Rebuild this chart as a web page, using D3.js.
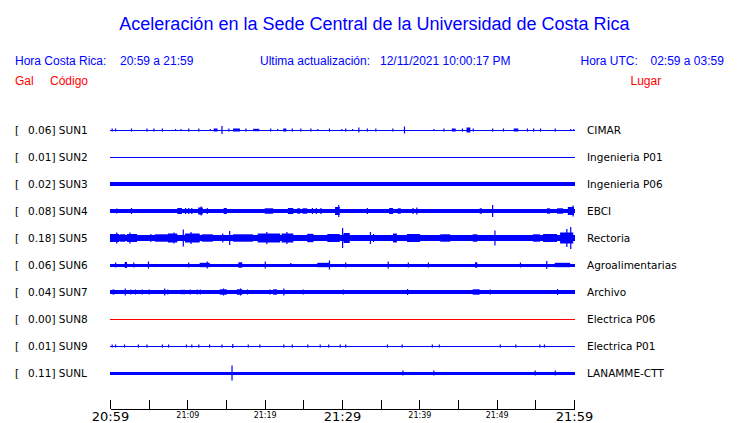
<!DOCTYPE html>
<html>
<head>
<meta charset="utf-8">
<script src="https://cdn.jsdelivr.net/npm/d3@7"></script>
<style>
  html, body { margin: 0; padding: 0; background: #fff; }
  svg { display: block; }
</style>
</head>
<body>
<svg id="chart" width="740" height="423"></svg>
<script>
// ---------------- DATA ----------------
const stations = ["SUN1","SUN2","SUN3","SUN4","SUN5","SUN6","SUN7","SUN8","SUN9","SUNL"];
const peaks    = ["0.06","0.01","0.02","0.08","0.18","0.06","0.04","0.00","0.01","0.11"];
const places   = ["CIMAR","Ingenieria P01","Ingenieria P06","EBCI","Rectoria","Agroalimentarias","Archivo","Electrica P06","Electrica P01","LANAMME-CTT"];
// background half-amplitude of each trace
const baseAmp  = [0.5, 0.5, 2, 2, 3, 1.5, 1.7, 0.5, 0.5, 1.5];
// bursts: [start minute, end minute (or null for a spike), half-amplitude]
const evSUN1 = [[0.2,null,1.5],[0.65,null,1.5],[2.7,null,1.5],[4.7,null,1.5],[5.6,null,1.5],[6.7,null,1.5],[8.4,null,1],[9.1,null,1],[10.1,null,1.5],[11.4,null,1.5],[12.9,null,1],[13.4,13.9,1.5],[14.4,null,4],[15.3,null,1.5],[15.9,16.8,1.5],[17.5,null,1.5],[18.5,19.3,1.2],[20.7,null,1.5],[21.6,null,1],[22.4,22.8,1.5],[23.5,null,1.5],[24.6,null,1.5],[25.9,null,1.5],[26.8,null,1],[28.3,null,1.5],[29.9,null,1],[30.4,null,1.5],[31.3,null,1],[32.1,null,2.5],[33.2,null,1.5],[34.3,null,1.5],[36.5,null,1.5],[38.0,null,3.5],[41.8,null,1],[43.1,null,1.5],[44.2,44.7,1.5],[45.5,null,1.5],[46.1,46.6,2.5],[46.9,null,1.5],[49.4,null,1.5],[50.8,null,1.5],[52.2,52.8,1.5],[53.9,null,1.5],[54.7,null,1.5],[55.6,null,1.5],[57.5,null,1.5],[59.5,null,1],[59.9,null,1]];
const evSUN2 = [];
const evSUN3 = [];
const evSUN4 = [[0.8,null,2.5],[2.7,null,3],[8.7,9.3,3],[9.7,null,3],[10.1,null,3],[10.5,null,3],[11.4,12.0,3.5],[11.7,null,4.5],[12.5,null,3],[14.7,15.1,3],[20.0,21.1,2.7],[23.0,23.7,3],[24.2,24.6,2.7],[24.9,25.5,2.7],[26.1,null,3],[26.6,null,3],[27.2,null,3],[29.1,29.7,4],[29.5,null,6],[33.2,null,3],[36.1,36.6,3],[37.2,37.6,2.7],[39.1,null,3],[39.6,null,3.5],[47.8,48.1,2.7],[49.4,null,6],[56.5,56.9,2.7],[57.8,58.6,2.7],[59.2,60,4],[59.8,null,5.5]];
const evSUN5 = [[0,1.2,4],[1.3,2.0,3.7],[2.2,3.5,4],[0.8,null,5.5],[2.5,null,5.5],[5.2,null,4],[5.8,7.5,3.7],[7.5,8.7,4.5],[8.2,null,5.5],[9.4,null,8.5],[9.7,11.6,4.5],[10.4,null,6],[11.9,13.3,3.7],[14.5,null,4.5],[15.4,null,7],[15.9,18.5,3.7],[19.1,22.0,4.5],[20.2,null,6],[22.2,23.7,4.5],[22.8,null,6],[25.5,26.3,4.2],[28.1,29.7,4],[30.0,null,10],[30.2,31.0,5],[33.6,null,6],[34.0,null,4],[36.6,37.1,4.5],[38.4,40.1,4],[42.7,44.0,3.7],[46.9,47.5,3.7],[49.7,null,7.5],[54.7,55.6,3.7],[56.0,57.8,4],[58.2,59.9,5.5],[59.0,null,9],[59.5,null,11]];
const evSUN6 = [[0.65,null,2.5],[1.9,2.2,3],[3.0,null,2.5],[4.9,null,3.5],[10.1,null,2.5],[11.6,12.9,2.2],[12.5,null,3.5],[16.6,17.1,2.7],[20.0,null,3.5],[23.3,null,2],[26.8,28.4,2.2],[28.3,null,4.5],[30.4,null,2.5],[35.9,null,3.5],[38.5,null,2.5],[41.1,null,2.5],[47.2,47.5,2.7],[53.0,null,2.5],[56.4,null,4],[57.5,59.5,2.2]];
const evSUN7 = [[0.3,0.6,2.5],[1.9,null,3.5],[2.6,null,2.5],[3.2,null,2.5],[4.1,null,2.5],[5.0,null,2.5],[7.0,null,3.5],[7.4,null,2.5],[9.1,9.7,2.2],[10.3,null,2.5],[11.2,null,2.5],[11.6,null,2.5],[14.2,15.1,2.7],[14.6,null,3.5],[16.4,17.1,2.7],[16.8,null,3.5],[17.7,null,2.5],[20.6,null,2.5],[21.1,21.6,2.7],[22.4,null,3.5],[24.9,null,2.5],[30.1,null,2.5],[38.4,null,3],[46.9,47.8,2.7],[49.1,null,2.5],[57.8,null,3]];
const evSUN8 = [];
const evSUN9 = [[0.2,null,1.5],[0.65,null,1.5],[1.8,null,1.5],[3.6,null,1.5],[4.7,null,1.5],[6.7,null,1.5],[7.5,null,1.5],[9.8,null,1.5],[10.5,null,1.5],[11.4,null,1.5],[12.8,null,1.5],[14.4,null,1.5],[15.8,null,2],[17.8,null,1.5],[19.3,null,1.5],[22.4,null,1.5],[23.5,null,1.5],[25.5,null,1.5],[27.1,null,1.5],[28.2,null,1.5],[29.7,null,1.5],[30.4,null,1.5],[35.8,null,1.5],[37.7,null,1.5],[41.6,null,1.5],[42.5,null,1.5],[50.4,null,1.5],[52.4,null,1.5],[55.5,null,1.5],[56.1,null,1.5]];
const evSUNL = [[15.7,null,7.5],[37.8,null,2.5],[41.8,null,2.5],[54.9,null,2.5],[57.5,null,2.5]];
const events = [evSUN1,evSUN2,evSUN3,evSUN4,evSUN5,evSUN6,evSUN7,evSUN8,evSUN9,evSUNL];

const tickMinutes = [0,5,10,15,20,25,30,35,40,45,50,55,60];
const tickLabels  = ["20:59","","21:09","","21:19","","21:29","","21:39","","21:49","","21:59"];
const bigLabels   = ["20:59","21:29","21:59"];

// ---------------- DRAW ----------------
const svg = d3.select("#chart");
const t0 = new Date(2021, 10, 12, 20, 59, 0);
const tm = m => new Date(t0.getTime() + m * 60000);

const x = d3.scaleTime().domain([tm(0), tm(60)]).range([110, 574]);
const y = d3.scalePoint().domain(stations).range([130, 373]);
const a = d3.scaleLinear().domain([-12, 12]).range([12, -12]);

const BLUE = "#0000ff", RED = "#ff0000";
const headFont = "'Liberation Sans', Arial, Helvetica, sans-serif";
const labFont = "'DejaVu Sans', Verdana, sans-serif";

// Title
svg.append("text").attr("x", 374.5).attr("y", 30).attr("text-anchor", "middle")
  .attr("font-family", headFont).attr("font-size", 18).attr("fill", BLUE)
  .text("Aceleración en la Sede Central de la Universidad de Costa Rica");

const head = [
  ["Hora Costa Rica:", 15, 65, BLUE], ["20:59 a 21:59", 120, 65, BLUE],
  ["Ultima actualización:", 260, 65, BLUE], ["12/11/2021 10:00:17 PM", 380, 65, BLUE],
  ["Hora UTC:", 580.5, 65, BLUE], ["02:59 a 03:59", 650.5, 65, BLUE],
  ["Gal", 15, 84.5, RED], ["Código", 50, 84.5, RED], ["Lugar", 630.5, 84.5, RED]
];
svg.selectAll("text.head").data(head).join("text").attr("class", "head")
  .attr("x", d => d[1]).attr("y", d => d[2])
  .attr("font-family", headFont).attr("font-size", 12).attr("fill", d => d[3])
  .text(d => d[0]);

// Traces
const rows = svg.selectAll("g.row").data(stations).join("g").attr("class", "row")
  .attr("transform", d => `translate(0,${y(d)})`);

rows.append("text").attr("x", 15).attr("y", 4).attr("font-family", labFont)
  .attr("font-size", 10.5).attr("fill", "#000").text("[");
rows.append("text").attr("x", 28).attr("y", 4).attr("font-family", labFont)
  .attr("font-size", 10.5).attr("fill", "#000")
  .text((d, i) => `${peaks[i]}] ${d}`);
rows.append("text").attr("x", 587).attr("y", 4).attr("font-family", labFont)
  .attr("font-size", 10.5).attr("fill", "#000")
  .text((d, i) => places[i]);

rows.each(function(d, i) {
  const g = d3.select(this);
  const col = d === "SUN8" ? RED : BLUE;
  const b = baseAmp[i];
  const h = Math.max(1, a(-b) - a(b));
  g.append("rect").attr("x", x(tm(0))).attr("width", x(tm(60)) - x(tm(0)) + 1)
    .attr("y", -h / 2).attr("height", h).attr("fill", col)
    .attr("shape-rendering", "crispEdges");
  g.selectAll("rect.ev").data(events[i]).join("rect").attr("class", "ev")
    .attr("x", e => x(tm(e[0])))
    .attr("width", e => e[1] == null ? 1.2 : Math.max(1.2, x(tm(e[1])) - x(tm(e[0]))))
    .attr("y", e => a(e[2])).attr("height", e => a(-e[2]) - a(e[2]))
    .attr("fill", col);
});

// Axis
const axis = d3.axisBottom(x)
  .tickValues(tickMinutes.map(tm))
  .tickSize(-9).tickSizeOuter(0).tickPadding(3)
  .tickFormat((d, i) => tickLabels[i]);
const ax = svg.append("g").attr("transform", "translate(0,409)").call(axis);
ax.select(".domain").attr("stroke", "#000").attr("shape-rendering", "crispEdges");
ax.selectAll(".tick line").attr("stroke", "#000").attr("shape-rendering", "crispEdges");
ax.selectAll(".tick text")
  .attr("font-family", labFont).attr("fill", "#000")
  .attr("font-size", (d, i) => bigLabels.includes(tickLabels[i]) ? 13 : 8);
</script>
</body>
</html>
